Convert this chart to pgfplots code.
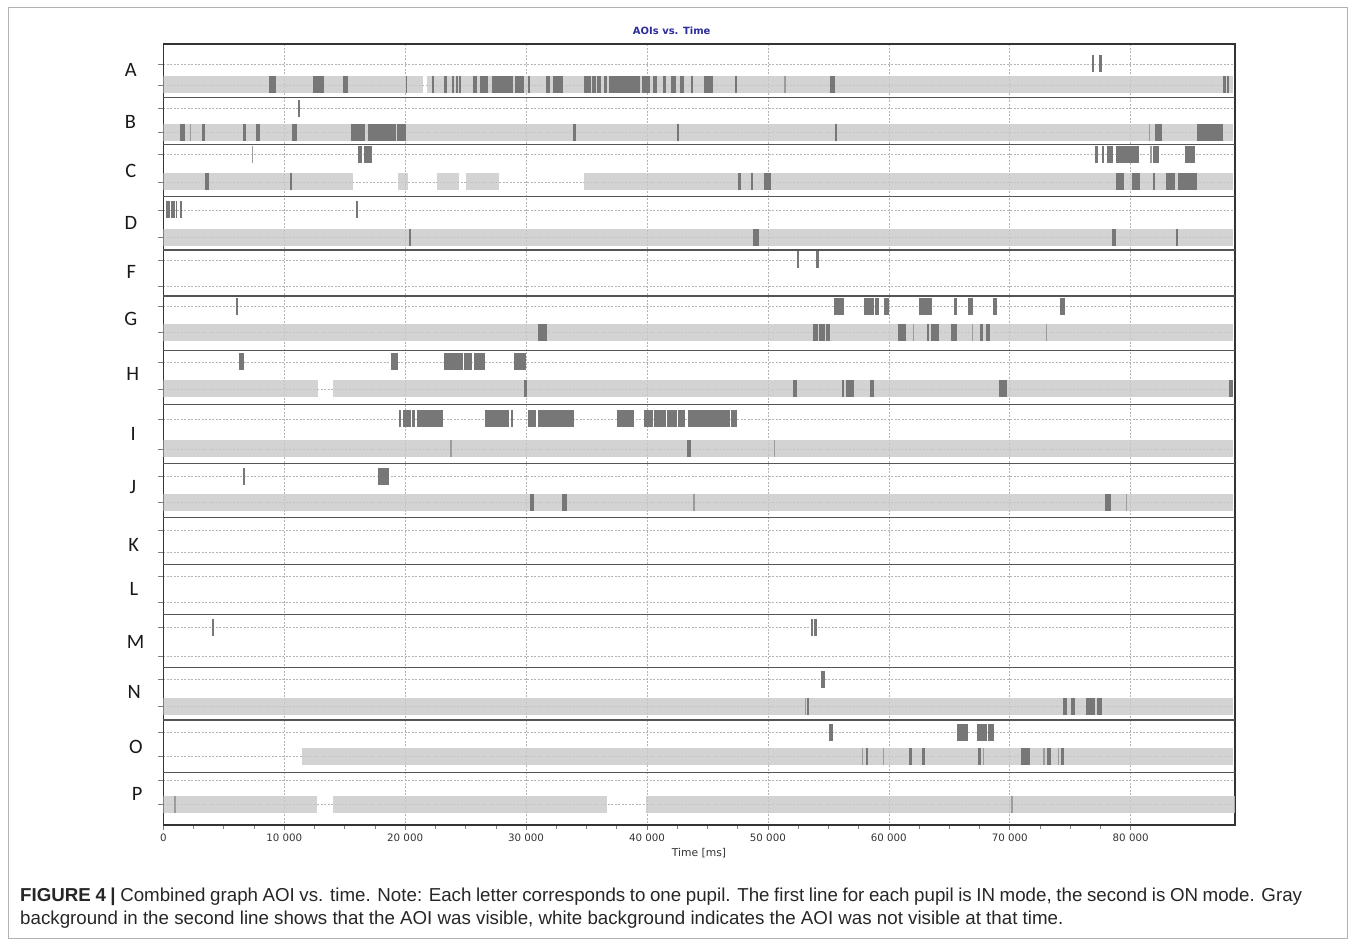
\documentclass[border=0pt]{standalone}
\usepackage{pgfplots}
\pgfplotsset{compat=1.18}
\usepackage{fontspec}
\setmainfont{Liberation Sans}
\newfontfamily\dejavu{DejaVu Sans}
\newfontfamily\carlito{Carlito}
\definecolor{lightbar}{HTML}{C8C8C8}
\definecolor{darkbar}{HTML}{777777}
\definecolor{midbar}{HTML}{9C9C9C}
\definecolor{sepc}{HTML}{555555}
\definecolor{gridc}{HTML}{B4B4B4}
\definecolor{titleblue}{HTML}{2B2B9A}
\begin{document}
\begin{tikzpicture}[x=1bp,y=1bp]
\path[use as bounding box] (0,0) rectangle (1355,947);
\draw[gray!60, line width=1bp] (8,9) rectangle (1347,939);
\begin{axis}[
 at={(163.3bp,122bp)}, anchor=south west,
 width=1071.7bp, height=780.7bp, scale only axis,
 xmin=0, xmax=88630, ymin=44.3, ymax=825, y dir=reverse,
 unbounded coords=jump,
 scaled x ticks=false,
 axis line style={draw=black!80, line width=1.6bp},
 xtick={0,10000,20000,30000,40000,50000,60000,70000,80000},
 xticklabels={0,10 000,20 000,30 000,40 000,50 000,60 000,70 000,80 000},
 minor x tick num=3,
 xtick pos=bottom, ytick pos=left, tick align=outside,
 major tick length=5bp, minor tick length=4bp,
 tick style={color=gray, line width=0.6bp},
 xticklabel style={font=\dejavu\fontsize{10.3}{12}\selectfont, text=black!80},
 ytick={64,85,108.3,132.3,154.7,182,210,237.5,260,286.7,306.7,332.7,362,389,419,449,476.7,502.7,530,552.7,576.7,602.7,627.7,656.7,679,706.3,732.3,756.3,780.7,804},
 yticklabel=\empty,
 ymajorgrids, xmajorgrids,
 major grid style={color=gridc, line width=0.6bp, dash pattern=on 2bp off 1.5bp},
 extra y ticks={97.7,144.3,196.7,250,296,350.7,404.3,463.7,517.7,564.3,614.3,667.3,720,772.3},
 extra y tick labels={},
 extra y tick style={major tick length=0pt, major grid style={solid, color=sepc, line width=1.2bp}},
]
% visible (light) background on ON lines
\addplot[lightbar, opacity=0.8, line width=17bp, line cap=butt, forget plot] coordinates {
(0,85) (21510,85) (nan,nan) (21780,85) (88490,85) (nan,nan)
(0,132.3) (88490,132.3) (nan,nan)
(0,182) (15720,182) (nan,nan) (19390,182) (20270,182) (nan,nan) (22610,182) (24460,182) (nan,nan) (25010,182) (27740,182) (nan,nan) (34790,182) (88490,182) (nan,nan)
(0,237.5) (88490,237.5) (nan,nan)
(0,332.7) (88490,332.7) (nan,nan)
(0,389) (12770,389) (nan,nan) (14010,389) (88490,389) (nan,nan)
(0,449) (88490,449) (nan,nan)
(0,502.7) (88490,502.7) (nan,nan)
(0,706.3) (88490,706.3) (nan,nan)
(11450,756.3) (88490,756.3) (nan,nan)
(0,804) (12740,804) (nan,nan) (14010,804) (36670,804) (nan,nan) (39920,804) (88630,804)
};
% short, lighter fixations
\addplot[midbar, line width=17bp, line cap=butt, forget plot] coordinates {
(51360,85) (51470,85) (nan,nan)
(2210,132.3) (2290,132.3) (nan,nan) (81520,132.3) (81630,132.3) (nan,nan)
(7310,154.7) (7450,154.7) (nan,nan) (81600,154.7) (81740,154.7) (nan,nan)
(61980,332.7) (62090,332.7) (nan,nan) (66860,332.7) (66940,332.7) (nan,nan) (72970,332.7) (73080,332.7) (nan,nan)
(23710,449) (23850,449) (nan,nan) (50480,449) (50590,449) (nan,nan)
(43840,502.7) (43950,502.7) (nan,nan) (79620,502.7) (79730,502.7) (nan,nan)
(53040,706.3) (53180,706.3) (nan,nan)
(57760,756.3) (57900,756.3) (nan,nan) (59500,756.3) (59610,756.3) (nan,nan) (67770,756.3) (67900,756.3) (nan,nan) (72780,756.3) (72940,756.3) (nan,nan) (73970,756.3) (74080,756.3) (nan,nan)
(910,804) (1050,804) (nan,nan) (70110,804) (70270,804)
};
% fixations
\addplot[darkbar, line width=17bp, line cap=butt, forget plot] coordinates {
(76830,64) (77000,64) (nan,nan) (77360,64) (77600,64) (nan,nan)
(8770,85) (9300,85) (nan,nan) (12360,85) (13270,85) (nan,nan) (14890,85) (15310,85) (nan,nan) (20050,85) (20160,85) (nan,nan)
(22200,85) (22420,85) (nan,nan) (23250,85) (23440,85) (nan,nan) (23880,85) (24040,85) (nan,nan) (24210,85) (24350,85) (nan,nan)
(24430,85) (24600,85) (nan,nan) (25590,85) (25920,85) (nan,nan) (26200,85) (26880,85) (nan,nan) (27160,85) (28900,85) (nan,nan)
(29090,85) (29830,85) (nan,nan) (30140,85) (30330,85) (nan,nan) (31610,85) (31940,85) (nan,nan) (32200,85) (33080,85) (nan,nan)
(34790,85) (35340,85) (nan,nan) (35480,85) (35790,85) (nan,nan) (35900,85) (36230,85) (nan,nan) (36470,85) (36670,85) (nan,nan)
(36890,85) (39420,85) (nan,nan) (39620,85) (40250,85) (nan,nan) (40530,85) (40860,85) (nan,nan) (41300,85) (41580,85) (nan,nan)
(41960,85) (42400,85) (nan,nan) (42730,85) (43090,85) (nan,nan) (43620,85) (43780,85) (nan,nan) (44720,85) (45490,85) (nan,nan)
(47280,85) (47470,85) (nan,nan) (55140,85) (55550,85) (nan,nan) (87670,85) (87860,85) (nan,nan) (87940,85) (88110,85) (nan,nan)
(11170,108.3) (11310,108.3) (nan,nan)
(1410,132.3) (1820,132.3) (nan,nan) (3200,132.3) (3480,132.3) (nan,nan) (6620,132.3) (6810,132.3) (nan,nan) (7640,132.3) (8000,132.3) (nan,nan)
(10650,132.3) (11090,132.3) (nan,nan) (15530,132.3) (16710,132.3) (nan,nan) (16900,132.3) (19220,132.3) (nan,nan) (19360,132.3) (20050,132.3) (nan,nan)
(33910,132.3) (34130,132.3) (nan,nan) (42460,132.3) (42650,132.3) (nan,nan) (55550,132.3) (55750,132.3) (nan,nan) (82020,132.3) (82590,132.3) (nan,nan)
(85520,132.3) (87610,132.3) (nan,nan)
(16130,154.7) (16460,154.7) (nan,nan) (16630,154.7) (17290,154.7) (nan,nan) (77050,154.7) (77270,154.7) (nan,nan) (77600,154.7) (77800,154.7) (nan,nan)
(78020,154.7) (78570,154.7) (nan,nan) (78790,154.7) (80660,154.7) (nan,nan) (81820,154.7) (82320,154.7) (nan,nan) (84470,154.7) (85350,154.7) (nan,nan)
(3450,182) (3810,182) (nan,nan) (10480,182) (10650,182) (nan,nan) (47560,182) (47750,182) (nan,nan) (48580,182) (48770,182) (nan,nan)
(49680,182) (50290,182) (nan,nan) (78760,182) (79480,182) (nan,nan) (80090,182) (80800,182) (nan,nan) (81820,182) (82020,182) (nan,nan)
(82930,182) (83700,182) (nan,nan) (83920,182) (85520,182) (nan,nan)
(220,210) (530,210) (nan,nan) (610,210) (940,210) (nan,nan) (1020,210) (1160,210) (nan,nan) (1380,210) (1580,210) (nan,nan) (15910,210) (16100,210) (nan,nan)
(20300,237.5) (20490,237.5) (nan,nan) (48800,237.5) (49270,237.5) (nan,nan) (78460,237.5) (78760,237.5) (nan,nan) (83730,237.5) (83890,237.5) (nan,nan)
(52440,260) (52600,260) (nan,nan) (53980,260) (54260,260) (nan,nan)
(6040,306.7) (6210,306.7) (nan,nan) (55500,306.7) (56320,306.7) (nan,nan) (57980,306.7) (58810,306.7) (nan,nan) (58860,306.7) (59160,306.7) (nan,nan)
(59630,306.7) (60050,306.7) (nan,nan) (62530,306.7) (63600,306.7) (nan,nan) (65420,306.7) (65620,306.7) (nan,nan) (66530,306.7) (67000,306.7) (nan,nan)
(68650,306.7) (68980,306.7) (nan,nan) (74190,306.7) (74540,306.7) (nan,nan)
(31020,332.7) (31710,332.7) (nan,nan) (53730,332.7) (54170,332.7) (nan,nan) (54260,332.7) (54730,332.7) (nan,nan) (54810,332.7) (55110,332.7) (nan,nan)
(60740,332.7) (61400,332.7) (nan,nan) (63140,332.7) (63360,332.7) (nan,nan) (63470,332.7) (64160,332.7) (nan,nan) (65120,332.7) (65620,332.7) (nan,nan)
(67550,332.7) (67770,332.7) (nan,nan) (68010,332.7) (68370,332.7) (nan,nan)
(6290,362) (6650,362) (nan,nan) (18810,362) (19440,362) (nan,nan) (23220,362) (23930,362) (nan,nan) (23990,362) (24820,362) (nan,nan)
(24900,362) (25510,362) (nan,nan) (25700,362) (26610,362) (nan,nan) (29030,362) (30030,362) (nan,nan)
(29860,389) (30060,389) (nan,nan) (52110,389) (52440,389) (nan,nan) (56130,389) (56300,389) (nan,nan) (56460,389) (57100,389) (nan,nan)
(58450,389) (58780,389) (nan,nan) (69080,389) (69750,389) (nan,nan) (88160,389) (88440,389) (nan,nan)
(19520,419) (19690,419) (nan,nan) (19850,419) (20460,419) (nan,nan) (20540,419) (20790,419) (nan,nan) (20960,419) (23110,419) (nan,nan)
(26610,419) (28620,419) (nan,nan) (28730,419) (28900,419) (nan,nan) (30140,419) (30830,419) (nan,nan) (30970,419) (33990,419) (nan,nan)
(37490,419) (38400,419) (nan,nan) (38460,419) (38960,419) (nan,nan) (39780,419) (40530,419) (nan,nan) (40610,419) (41550,419) (nan,nan)
(41630,419) (42460,419) (nan,nan) (42540,419) (43170,419) (nan,nan) (43370,419) (46870,419) (nan,nan) (46920,419) (47470,419) (nan,nan)
(43280,449) (43640,449) (nan,nan)
(6620,476.7) (6790,476.7) (nan,nan) (17730,476.7) (18670,476.7) (nan,nan)
(30330,502.7) (30690,502.7) (nan,nan) (33000,502.7) (33360,502.7) (nan,nan) (77910,502.7) (78350,502.7) (nan,nan)
(4060,627.7) (4220,627.7) (nan,nan) (53540,627.7) (53760,627.7) (nan,nan) (53820,627.7) (54040,627.7) (nan,nan)
(54370,679) (54700,679) (nan,nan)
(53210,706.3) (53380,706.3) (nan,nan) (74430,706.3) (74710,706.3) (nan,nan) (75100,706.3) (75400,706.3) (nan,nan) (76310,706.3) (77050,706.3) (nan,nan)
(77250,706.3) (77630,706.3) (nan,nan)
(55030,732.3) (55410,732.3) (nan,nan) (65670,732.3) (66580,732.3) (nan,nan) (67270,732.3) (68100,732.3) (nan,nan) (68240,732.3) (68700,732.3) (nan,nan)
(58090,756.3) (58310,756.3) (nan,nan) (61700,756.3) (61950,756.3) (nan,nan) (62750,756.3) (62970,756.3) (nan,nan) (67410,756.3) (67600,756.3) (nan,nan)
(70960,756.3) (71680,756.3) (nan,nan) (73110,756.3) (73410,756.3) (nan,nan) (74240,756.3) (74490,756.3)
};
\end{axis}
% title and axis label
\node[font=\dejavu\bfseries\fontsize{10}{12}\selectfont, text=titleblue] at (671.7,916.3) {AOIs vs. Time};
\node[font=\dejavu\fontsize{10.8}{12}\selectfont, text=black!80] at (699,94) {Time [ms]};
% row labels (pupils)
\begin{scope}[every node/.style={anchor=base, inner sep=0pt, font=\carlito\fontsize{20.5}{24}\selectfont, text=black!90}]
\node at (130.9,870.3) {A};
\node at (130.5,818.7) {B};
\node at (130.9,769.3) {C};
\node at (131,717) {D};
\node at (131.2,668.7) {F};
\node at (130.7,621) {G};
\node at (132.8,566) {H};
\node at (133.3,506.3) {I};
\node at (133,453) {J};
\node at (133.8,395.3) {K};
\node at (133.8,351.7) {L};
\node at (135.5,298.7) {M};
\node at (134.2,248.7) {N};
\node at (135.8,193.5) {O};
\node at (137.2,147) {P};
\end{scope}
% caption
\begin{scope}[every node/.style={anchor=base west, inner sep=0pt, font=\fontsize{18.8}{22}\selectfont, text=black!85}]
\node at (20,46) {\makebox[1282bp][s]{\textbf{FIGURE 4 |} Combined graph AOI vs. time. Note: Each letter corresponds to one pupil. The first line for each pupil is IN mode, the second is ON mode. Gray}};
\node at (20,23) {background in the second line shows that the AOI was visible, white background indicates the AOI was not visible at that time.};
\end{scope}
\end{tikzpicture}
\end{document}
